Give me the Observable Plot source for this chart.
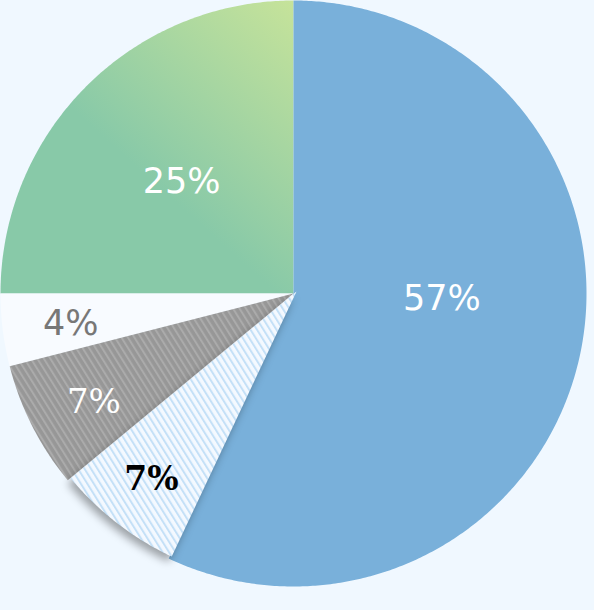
<!DOCTYPE html>
<html>
<head>
<meta charset="utf-8">
<script src="https://cdn.jsdelivr.net/npm/d3@7"></script>
<script src="https://cdn.jsdelivr.net/npm/@observablehq/plot@0.6"></script>
<style>
  html, body { margin: 0; padding: 0; background: #f0f8ff; }
  #chart { width: 594px; height: 610px; }
</style>
</head>
<body>
<div id="chart"></div>
<script>
// ---- data ----
const categories = ["A", "B", "C", "D", "E"];
const values = [57, 7, 7, 4, 25];
const labelTexts = ["57%", "7%", "7%", "4%", "25%"];

// ---- geometry built from the data ----
const total = d3.sum(values);
let acc = 0;
const slices = categories.map((c, i) => {
  const a0 = acc / total * 2 * Math.PI;
  acc += values[i];
  const a1 = acc / total * 2 * Math.PI;
  return { cat: c, value: values[i], label: labelTexts[i], a0, a1, mid: (a0 + a1) / 2 };
});

function slicePoints(s) {
  const pts = [{ cat: s.cat, x: 0, y: 0 }];
  const n = Math.max(2, Math.ceil((s.a1 - s.a0) / (Math.PI / 360)));
  for (let k = 0; k <= n; k++) {
    const a = s.a0 + (s.a1 - s.a0) * k / n;
    pts.push({ cat: s.cat, x: Math.sin(a), y: Math.cos(a) });
  }
  pts.push({ cat: s.cat, x: 0, y: 0 });
  return pts;
}
function labelPoint(s) {
  const r = s.value >= 20 ? 0.54 : 0.78;
  return [{ x: r * Math.sin(s.mid), y: r * Math.cos(s.mid), label: s.label }];
}

const fills = ["#79b0da", "url(#hatchBlue)", "url(#hatchGray)", "#f8fbff", "url(#greenGrad)"];

const sliceMark = (i, extra = {}) =>
  Plot.line(slicePoints(slices[i]), { x: "x", y: "y", fill: fills[i], stroke: "none", curve: "linear", ...extra });

const labelMark = (i, opts) =>
  Plot.text(labelPoint(slices[i]), { x: "x", y: "y", text: "label", ...opts });

const chart = Plot.plot({
  width: 594,
  height: 610,
  marginLeft: 0,
  marginRight: 8,
  marginTop: 0,
  marginBottom: 24,
  x: { domain: [-1, 1], axis: null },
  y: { domain: [-1, 1], axis: null },
  style: { background: "#f0f8ff", overflow: "visible" },
  marks: [
    sliceMark(4),
    sliceMark(3),
    sliceMark(0),
    sliceMark(2),
    sliceMark(1, { dx: 3, dy: -2 }),
    labelMark(0, { fill: "white", fontFamily: "DejaVu Sans", fontSize: 35, dx: -6, dy: -29 }),
    labelMark(4, { fill: "white", fontFamily: "DejaVu Sans", fontSize: 35 }),
    labelMark(3, { fill: "#777777", fontFamily: "DejaVu Sans", fontSize: 35, dx: 4, dy: 2 }),
    labelMark(2, { fill: "white", fontFamily: "DejaVu Serif", fontSize: 34, dx: 4, dy: 5 }),
    labelMark(1, { fill: "black", fontFamily: "DejaVu Serif", fontWeight: "bold", fontSize: 33, dx: -2, dy: 5 })
  ]
});

// defs: patterns and gradient
const svg = d3.select(chart);
const defs = svg.insert("defs", ":first-child");
const hb = defs.append("pattern").attr("id", "hatchBlue").attr("patternUnits", "userSpaceOnUse")
  .attr("width", 5.5).attr("height", 10).attr("patternTransform", "rotate(-32)");
hb.append("rect").attr("width", 5.5).attr("height", 10).attr("fill", "#f4f9ff");
hb.append("rect").attr("width", 2).attr("height", 10).attr("fill", "#c4e0f7");
const hg = defs.append("pattern").attr("id", "hatchGray").attr("patternUnits", "userSpaceOnUse")
  .attr("width", 5.5).attr("height", 10).attr("patternTransform", "rotate(-32)");
hg.append("rect").attr("width", 5.5).attr("height", 10).attr("fill", "#979797");
hg.append("rect").attr("width", 2).attr("height", 10).attr("fill", "#ababab");
const gg = defs.append("linearGradient").attr("id", "greenGrad").attr("gradientUnits", "userSpaceOnUse")
  .attr("x1", 293).attr("y1", 0).attr("x2", 140).attr("y2", 170);
gg.append("stop").attr("offset", 0).attr("stop-color", "#c6e39a");
gg.append("stop").attr("offset", 1).attr("stop-color", "#88c9a8");

// drop shadow on the raised hatched slice
const lines = chart.querySelectorAll('g[aria-label="line"]');
lines[lines.length - 1].style.filter = "drop-shadow(-3px 5px 4px rgba(0,0,0,0.35))";

document.getElementById("chart").appendChild(chart);
</script>
</body>
</html>
